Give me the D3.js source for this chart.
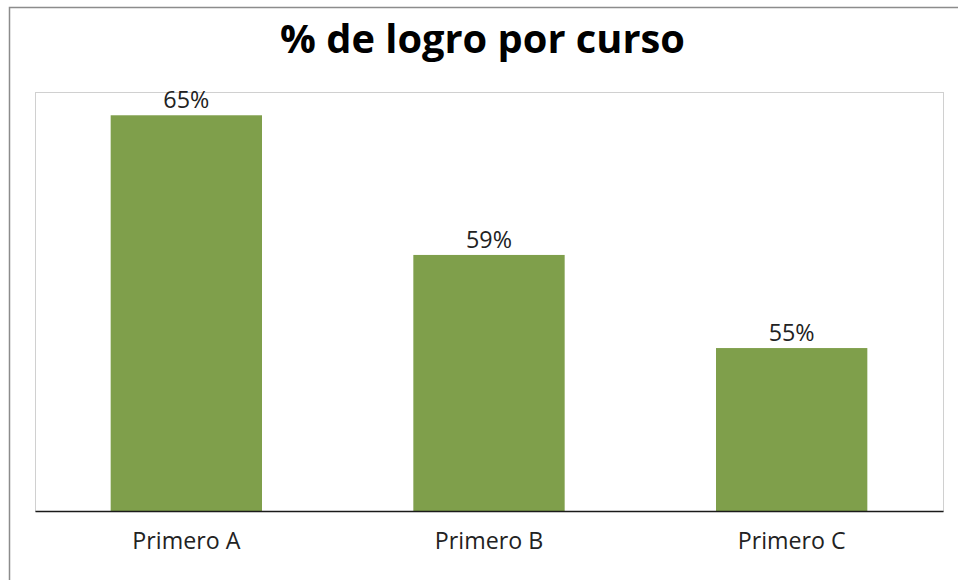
<!DOCTYPE html>
<html><head><meta charset="utf-8">
<script src="https://cdn.jsdelivr.net/npm/d3@7"></script>
<style>body{margin:0;background:#fff}svg{display:block}</style>
</head><body>
<svg id="c" width="958" height="580"></svg>
<script>
const categories = ["Primero A", "Primero B", "Primero C"];
const values = [0.65, 0.59, 0.55];
const yDomain = [0.48, 0.66];

const svg = d3.select("#c");
const W = 958, H = 580;
const m = {left: 35, right: 15, top: 92, bottom: 69};
const font = "'Open Sans', sans-serif";

// fit a font size so that sample text has the target width
function fitSize(sample, target, weight) {
  const t = svg.append("text").attr("font-family", font).attr("font-size", 20)
    .attr("font-weight", weight || "normal").text(sample);
  const w = t.node().getComputedTextLength();
  t.remove();
  return 20 * target / w;
}
const titleSize = fitSize("% de logro por curso", 405, "bold");
const catSize = fitSize("Primero A", 108);
const valSize = fitSize("59%", 46);

// outer chart border
svg.append("path").attr("d", `M9.5,${H} V7.5 H${W}`).attr("fill","none").attr("stroke","#8c8c8c").attr("stroke-width",1.5);

const x = d3.scaleBand().domain(categories).range([m.left, W - m.right]).paddingInner(0.5).paddingOuter(0.25);
const y = d3.scaleLinear().domain(yDomain).range([H - m.bottom, m.top]);

// plot area border
svg.append("rect").attr("x", m.left + 0.5).attr("y", m.top + 0.5)
  .attr("width", W - m.right - m.left).attr("height", H - m.bottom - m.top)
  .attr("fill","none").attr("stroke","#d0d0d0").attr("stroke-width",1);

svg.append("g").selectAll("rect").data(values).join("rect")
  .attr("x", (d,i) => x(categories[i]))
  .attr("width", x.bandwidth())
  .attr("y", d => y(d))
  .attr("height", d => y(yDomain[0]) - y(d))
  .attr("fill", "#7f9f4b");

// baseline axis
const xAxis = d3.axisBottom(x).tickSize(0).tickPadding(0);
const gx = svg.append("g").attr("transform", `translate(0,${y(yDomain[0])})`).call(xAxis);
gx.select(".domain").attr("stroke","#1a1a1a").attr("stroke-width",1.5);
gx.selectAll("text").attr("dy", null).attr("y", 38)
  .attr("font-family", font).attr("font-size", catSize).attr("fill","#222");

svg.append("g").selectAll("text").data(values).join("text")
  .attr("x", (d,i) => x(categories[i]) + x.bandwidth()/2)
  .attr("y", d => y(d) - 7)
  .attr("text-anchor","middle")
  .attr("font-family", font).attr("font-size", valSize).attr("fill","#222")
  .text(d => d3.format(".0%")(d));

svg.append("text").attr("x", 482.5).attr("y", 53).attr("text-anchor","middle")
  .attr("font-family", font).attr("font-weight","bold").attr("font-size", titleSize).attr("fill","#000")
  .text("% de logro por curso");
</script>
</body></html>
